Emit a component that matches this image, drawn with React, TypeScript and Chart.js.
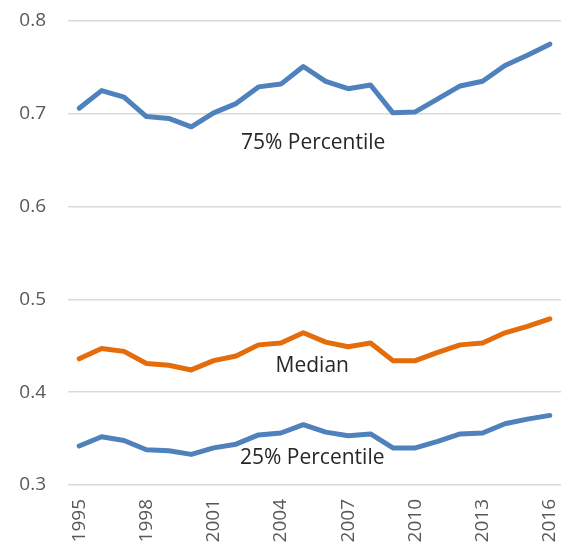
import React, { useEffect, useRef } from "react";
import { Chart, registerables } from "chart.js";

Chart.register(...registerables);

const years: string[] = [
  "1995", "1996", "1997", "1998", "1999", "2000", "2001", "2002", "2003", "2004", "2005",
  "2006", "2007", "2008", "2009", "2010", "2011", "2012", "2013", "2014", "2015", "2016",
];

const p75: number[] = [
  0.706, 0.725, 0.718, 0.697, 0.695, 0.686, 0.701, 0.711, 0.729, 0.732, 0.751,
  0.735, 0.727, 0.731, 0.701, 0.702, 0.716, 0.730, 0.735, 0.752, 0.763, 0.775,
];

const median: number[] = [
  0.436, 0.447, 0.444, 0.431, 0.429, 0.424, 0.434, 0.439, 0.451, 0.453, 0.464,
  0.454, 0.449, 0.453, 0.434, 0.434, 0.443, 0.451, 0.453, 0.464, 0.471, 0.479,
];

const p25: number[] = [
  0.342, 0.352, 0.348, 0.338, 0.337, 0.333, 0.340, 0.344, 0.354, 0.356, 0.365,
  0.357, 0.353, 0.355, 0.340, 0.340, 0.347, 0.355, 0.356, 0.366, 0.371, 0.375,
];

const yTicks: number[] = [0.3, 0.4, 0.5, 0.6, 0.7, 0.8];

// series annotations: text, x position (category index), y value
const annotationTexts: string[] = ["75% Percentile", "Median", "25% Percentile"];
const annotationX: number[] = [10.44, 10.4, 10.4];
const annotationY: number[] = [0.668, 0.428, 0.329];

const annotationPlugin = {
  id: "seriesLabels",
  afterDatasetsDraw(chart: any) {
    const { ctx, scales } = chart;
    ctx.save();
    ctx.font = "21px 'Open Sans'";
    ctx.fillStyle = "#262626";
    ctx.textAlign = "center";
    ctx.textBaseline = "middle";
    annotationTexts.forEach((t, i) => {
      const x = scales.x.getPixelForValue(annotationX[i]);
      const y = scales.y.getPixelForValue(annotationY[i]);
      ctx.fillText(t, x, y);
    });
    ctx.restore();
  },
};

export default function App() {
  const ref = useRef<HTMLCanvasElement>(null);

  useEffect(() => {
    if (!ref.current) return;
    const chart = new Chart(ref.current, {
      type: "line",
      data: {
        labels: years,
        datasets: [
          { label: "75% Percentile", data: p75, borderColor: "#4F81BD", backgroundColor: "#4F81BD" },
          { label: "Median", data: median, borderColor: "#E46C0A", backgroundColor: "#E46C0A" },
          { label: "25% Percentile", data: p25, borderColor: "#4F81BD", backgroundColor: "#4F81BD" },
        ],
      },
      options: {
        animation: false,
        responsive: true,
        maintainAspectRatio: false,
        layout: { padding: { top: 21, right: 4, left: 0, bottom: 0 } },
        elements: {
          line: { borderWidth: 5, tension: 0, borderCapStyle: "round", borderJoinStyle: "round" },
          point: { radius: 0, hoverRadius: 0 },
        },
        plugins: {
          legend: { display: false },
          tooltip: { enabled: false },
        },
        scales: {
          x: {
            type: "category",
            offset: true,
            grid: { display: false, drawTicks: false },
            border: { display: false },
            afterFit: (axis: any) => {
              axis.height = 60;
              axis.paddingLeft = 0;
              axis.paddingRight = 0;
            },
            ticks: {
              autoSkip: false,
              minRotation: 90,
              maxRotation: 90,
              padding: 14,
              color: "#595959",
              font: { family: "'Open Sans'", size: 19 },
              callback: (_v: any, i: number) => (i % 3 === 0 ? years[i] : ""),
            },
          },
          y: {
            type: "linear",
            min: 0.3,
            max: 0.8,
            afterBuildTicks: (axis: any) => {
              axis.ticks = yTicks.map((v) => ({ value: v }));
            },
            afterFit: (axis: any) => {
              axis.width = 68;
              axis.paddingTop = 0;
              axis.paddingBottom = 0;
            },
            grid: { color: "#D9D9D9", lineWidth: 1.5, drawTicks: false },
            border: { display: false },
            ticks: {
              padding: 22,
              color: "#595959",
              font: { family: "'Open Sans'", size: 19 },
              callback: (v: any) => Number(v).toFixed(1),
            },
          },
        },
      },
      plugins: [annotationPlugin],
    });
    return () => chart.destroy();
  }, []);

  return (
    <div style={{ position: "fixed", left: 0, top: 0, width: 565, height: 545, background: "#fff" }}>
      <canvas ref={ref} />
    </div>
  );
}
